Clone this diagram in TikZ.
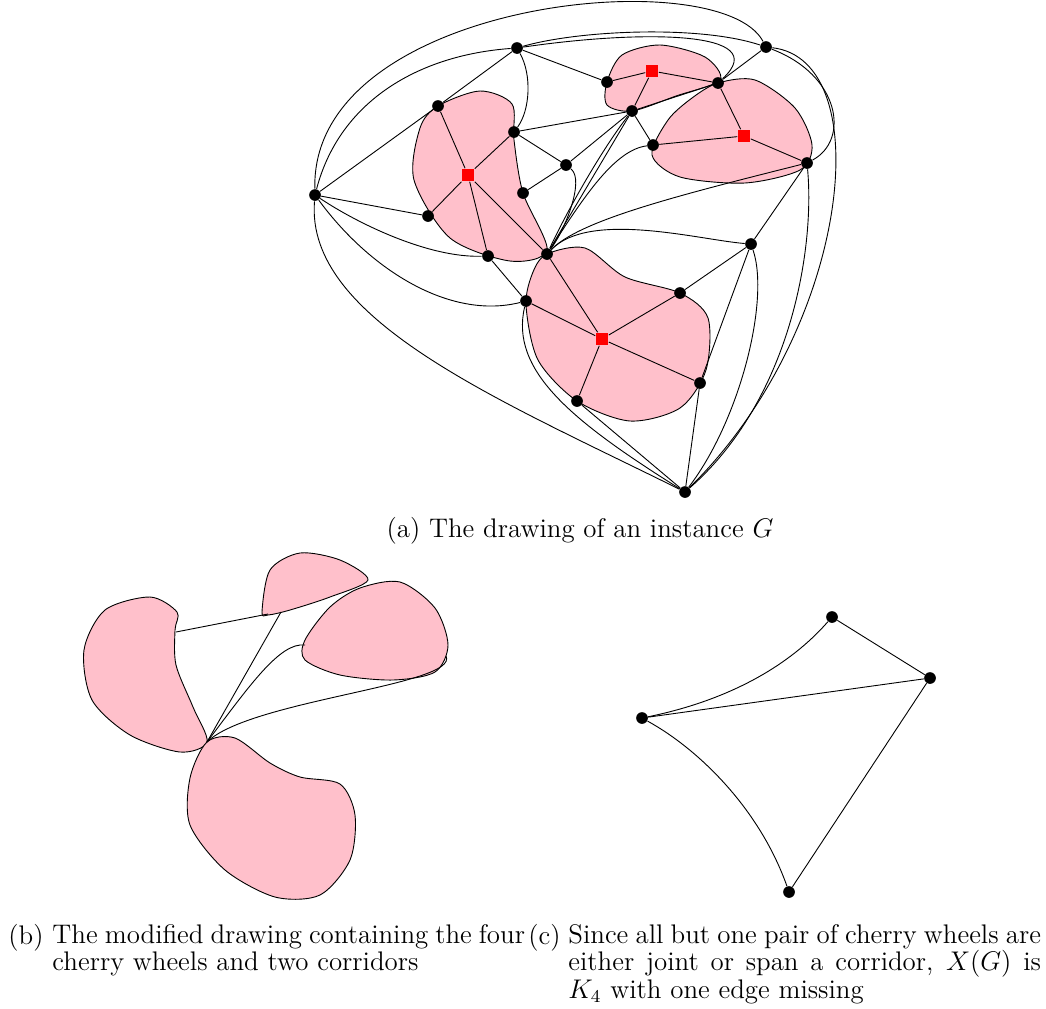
\documentclass[tikz,border=0pt]{standalone}
\usepackage{amsmath,amssymb}
\usepackage{tikz}
\usetikzlibrary{backgrounds}
\definecolor{wheelpink}{RGB}{255,192,203}

\begin{document}
\begin{tikzpicture}[
    x=0.4444pt, y=-0.4444pt,
    vert/.style={circle, fill=black, inner sep=0pt, minimum size=5.2pt},
    hub/.style={rectangle, fill=red, inner sep=0pt, minimum size=5.6pt},
    wheel/.style={draw=black, fill=wheelpink},
    captfont/.style={font=\fontsize{11.95}{12.2}\selectfont},
    capt/.style={captfont, inner sep=0pt, anchor=north west, align=justify, text width=210pt}
]
\useasboundingbox (0,0) rectangle (1046,1008);

% (a) the instance G
\node[vert] (l) at (315,195) {};
\node[vert] (t1) at (517,48) {};
\node[vert] (t2) at (766,47) {};
\node[vert] (a1) at (438,106) {};
\node[vert] (a2) at (514,132) {};
\node[vert] (a3) at (428,216) {};
\node[vert] (a4) at (488,256) {};
\node[vert] (b) at (566,165) {};
\node[vert] (b2) at (523,193) {};
\node[vert] (c) at (547,254) {};
\node[hub] (ha) at (468,175) {};
\node[vert] (s1) at (607,82) {};
\node[vert] (s2) at (632,111) {};
\node[vert] (s3) at (718,83) {};
\node[hub] (hs) at (652,71) {};
\node[vert] (r2) at (653,145) {};
\node[vert] (r3) at (807,163) {};
\node[hub] (hr) at (744,136) {};
\node[vert] (d1) at (526,301) {};
\node[vert] (d2) at (680,293) {};
\node[vert] (d3) at (700,383) {};
\node[vert] (d4) at (577,401) {};
\node[hub] (hd) at (602,339) {};
\node[vert] (e) at (751,244) {};
\node[vert] (bt) at (685,492) {};

\begin{scope}[on background layer]
\draw[wheel] plot[smooth cycle] coordinates {(438,106) (480,91) (512,104) (514,140) (523,193) (547,250) (510,261) (450,238) (414,180) (420,128)};
\draw[wheel] plot[smooth cycle] coordinates {(607,82) (622,55) (660,45) (705,57) (720,80) (676,96) (632,111) (607,105)};
\draw[wheel] plot[smooth cycle] coordinates {(718,83) (755,80) (795,108) (812,145) (800,170) (745,183) (680,177) (652,155) (668,120) (692,98)};
\draw[wheel] plot[smooth cycle] coordinates {(547,254) (585,248) (625,277) (680,293) (708,318) (706,370) (680,408) (630,421) (577,401) (538,360) (526,305) (533,272)};
\end{scope}

\draw (l) -- (a1);
\draw (l) -- (a3);
\draw (t1) -- (a1);
\draw (t1) -- (s1);
\draw (ha) -- (a1);
\draw (ha) -- (a2);
\draw (ha) -- (a3);
\draw (ha) -- (a4);
\draw (ha) -- (c);
\draw (a2) -- (b);
\draw (a2) -- (s2);
\draw (b) -- (s2);
\draw (b) -- (b2);
\draw (c) -- (s2);
\draw (hs) -- (s1);
\draw (hs) -- (s2);
\draw (hs) -- (s3);
\draw (s2) -- (s3);
\draw (s2) -- (r2);
\draw (t2) -- (s3);
\draw (hr) -- (s3);
\draw (hr) -- (r2);
\draw (hr) -- (r3);
\draw (r3) -- (e);
\draw (e) -- (d2);
\draw (e) -- (d3);
\draw (a4) -- (d1);
\draw (hd) -- (c);
\draw (hd) -- (d1);
\draw (hd) -- (d2);
\draw (hd) -- (d3);
\draw (hd) -- (d4);
\draw (d4) -- (bt);
\draw (d3) -- (bt);

\draw (l) .. controls (310,0) and (720,-40) .. (t2);
\draw (l) .. controls (340,100) and (420,55) .. (t1);
\draw (t1) .. controls (580,30) and (700,25) .. (t2);
\draw (t1) .. controls (640,30) and (775,30) .. (s3);
\draw (t1) .. controls (532,75) and (530,110) .. (a2);
\draw (l) .. controls (360,225) and (430,258) .. (a4);
\draw (l) .. controls (370,270) and (450,320) .. (d1);
\draw (l) .. controls (305,320) and (500,400) .. (bt);
\draw (d1) .. controls (510,370) and (570,420) .. (bt);
\draw (b) .. controls (585,180) and (565,230) .. (c);
\draw (c) .. controls (570,205) and (605,145) .. (s2);
\draw (c) .. controls (585,195) and (615,150) .. (r2);
\draw (c) .. controls (580,220) and (680,195) .. (r3);
\draw (c) .. controls (590,210) and (700,240) .. (e);
\draw (e) .. controls (770,300) and (740,420) .. (bt);
\draw (r3) .. controls (815,250) and (790,400) .. (bt);
\draw (t2) .. controls (880,60) and (850,330) .. (bt);
\draw (t2) .. controls (840,75) and (850,140) .. (r3);

\node[captfont] (capa) at (580,531) {(a) The drawing of an instance $G$};

% (b) the modified drawing
\draw[wheel] plot[smooth cycle] coordinates {(177,612) (150,597) (105,610) (84,650) (92,700) (130,735) (180,752) (207,742) (193,707) (176,665) (175,630)};
\draw[wheel] plot[smooth cycle] coordinates {(262,612) (270,570) (300,553) (340,560) (368,580) (330,597) (290,610) (268,615)};
\draw[wheel] plot[smooth cycle] coordinates {(360,588) (400,582) (435,608) (448,645) (435,672) (393,680) (340,675) (305,660) (305,640) (330,607)};
\draw[wheel] plot[smooth cycle] coordinates {(207,742) (235,738) (270,763) (300,777) (340,784) (355,815) (350,860) (320,895) (275,897) (225,870) (190,825) (190,778)};

\coordinate (cut) at (207,742);
\coordinate (pl) at (176,632);
\coordinate (ps1) at (268,614);
\coordinate (ps2) at (281,612);
\coordinate (pr1) at (305,645);
\coordinate (pr2) at (446,656);
\draw (pl) -- (ps1);
\draw (cut) -- (ps2);
\draw (cut) .. controls (250,685) and (280,642) .. (pr1);
\draw (cut) .. controls (250,700) and (460,685) .. (pr2);

\node[capt, text width=20pt] (labb) at (8,924) {(b)};
\node[capt] (capb) at (52,924) {The modified drawing containing the four\linebreak cherry wheels and two corridors};

% (c) the graph X(G)
\node[vert] (c1) at (832,617) {};
\node[vert] (c2) at (930,678) {};
\node[vert] (c3) at (642,718) {};
\node[vert] (c4) at (789,892) {};
\draw (c1) -- (c2);
\draw (c3) -- (c2);
\draw (c2) -- (c4);
\draw (c3) .. controls (730,700) and (790,665) .. (c1);
\draw (c3) .. controls (700,750) and (760,810) .. (c4);

\node[capt, text width=20pt] (labc) at (528,924) {(c)};
\node[capt] (capc) at (568,924) {Since all but one pair of cherry wheels are\linebreak either joint or span a corridor, $X(G)$ is\linebreak $K_4$ with one edge missing};
\end{tikzpicture}
\end{document}
